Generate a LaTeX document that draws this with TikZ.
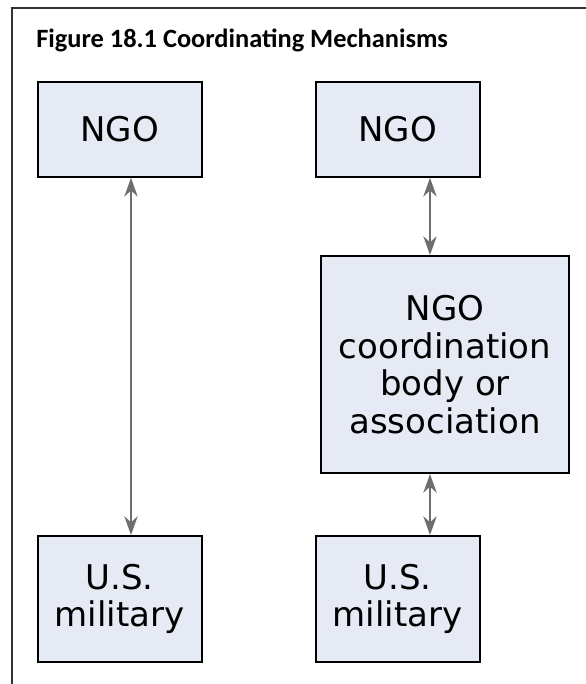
\documentclass[tikz,border=0pt]{standalone}
\usepackage{fontspec}
\setmainfont{DejaVu Sans}
\newfontfamily\titlefont{Carlito}
\usetikzlibrary{arrows.meta}
\definecolor{boxfill}{HTML}{E6EAF4}
\definecolor{arrowgray}{HTML}{6E6E6E}
\definecolor{framegray}{HTML}{333333}
\begin{document}
\begin{tikzpicture}[x=0.75pt,y=-0.75pt,
  boxnode/.style={draw=black,line width=1.5pt,fill=boxfill,inner sep=0pt,
    align=center,font=\fontsize{25.5}{28.3}\selectfont},
  link/.style={draw=arrowgray,line width=1.5pt,
    {Stealth[length=14pt,width=10pt,inset=4.5pt]}-{Stealth[length=14pt,width=10pt,inset=4.5pt]}}]
\useasboundingbox (0,0) rectangle (585,684);
\draw[framegray,line width=1.1pt] (12,684) -- (12,8) -- (590,8);
\node[anchor=base west,font=\titlefont\bfseries\fontsize{19.8}{23}\selectfont,inner sep=0pt] (title) at (36,48) {Figure 18.1 Coordinating Mechanisms};
\node[boxnode,minimum width=123pt,minimum height=71pt] (ngoL) at (119.5,129.5) {NGO};
\node[boxnode,minimum width=123pt,minimum height=71pt] (ngoR) at (397.5,129.5) {NGO};
\node[boxnode,minimum width=186pt,minimum height=162.75pt] (coord) at (445,364.5) {NGO\\coordination\\body or\\association};
\node[boxnode,minimum width=123pt,minimum height=94.5pt] (milL) at (119.5,599) {U.S.\\military};
\node[boxnode,minimum width=123pt,minimum height=94.5pt] (milR) at (397.5,599) {U.S.\\military};
\draw[link] (ngoL.south -| 131,0) -- (milL.north -| 131,0);
\draw[link] (ngoR.south -| 430,0) -- (coord.north -| 430,0);
\draw[link] (coord.south -| 430,0) -- (milR.north -| 430,0);
\end{tikzpicture}
\end{document}
